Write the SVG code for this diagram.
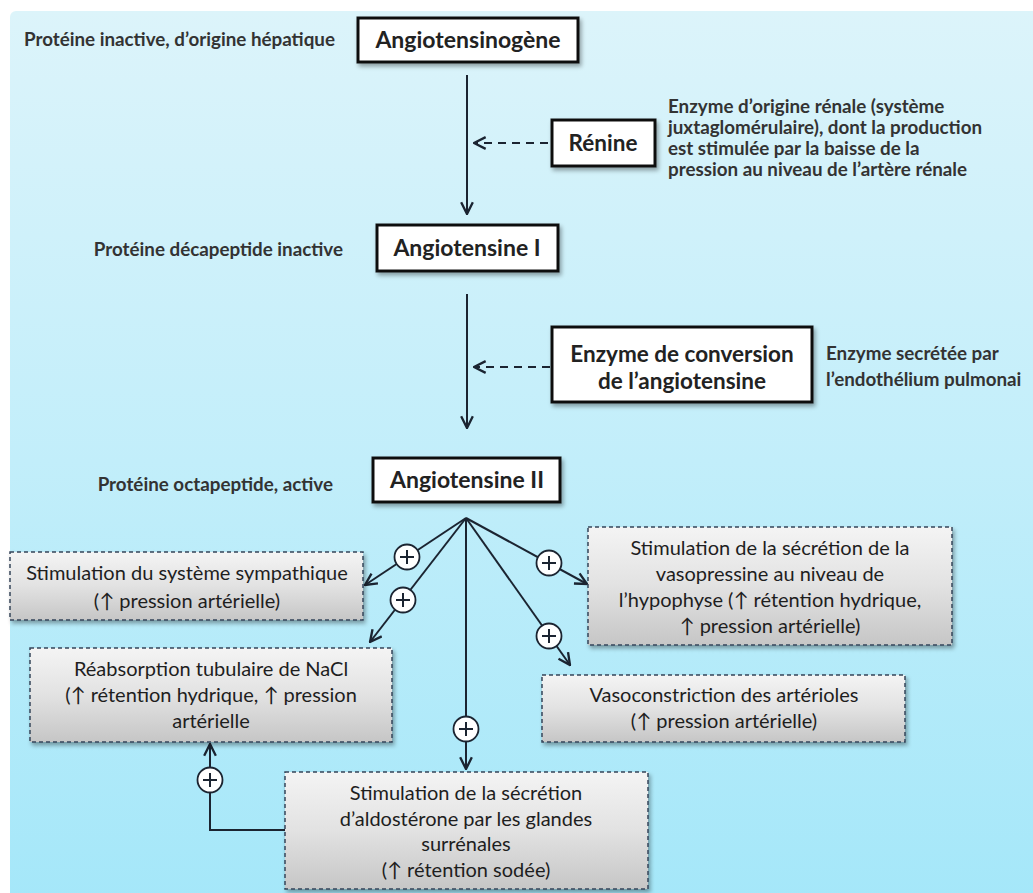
<svg xmlns="http://www.w3.org/2000/svg" width="1033" height="893" viewBox="0 0 1033 893">
<defs>
<linearGradient id="bgG" x1="0" y1="0" x2="0" y2="1">
<stop offset="0" stop-color="#dcf4fa"/>
<stop offset="0.5" stop-color="#c2eefa"/>
<stop offset="1" stop-color="#a4e7f9"/>
</linearGradient>
<linearGradient id="grayG" x1="0" y1="0" x2="0" y2="1">
<stop offset="0" stop-color="#f4f4f4"/>
<stop offset="0.5" stop-color="#e2e2e2"/>
<stop offset="1" stop-color="#c6c6c6"/>
</linearGradient>
<filter id="sh" x="-10%" y="-20%" width="125%" height="150%">
<feDropShadow dx="2" dy="3" stdDeviation="2" flood-color="#000" flood-opacity="0.35"/>
</filter>
<marker id="ah" viewBox="0 0 12 12" refX="11" refY="6" markerWidth="14" markerHeight="14" markerUnits="userSpaceOnUse" orient="auto">
<path d="M1,1 L11,6 L1,11" fill="none" stroke="#1b2431" stroke-width="2"/>
</marker>
<style>
.wbox{fill:#fff;stroke:#111;stroke-width:3;filter:url(#sh)}
.gbox{fill:url(#grayG);stroke:#34465a;stroke-width:1.5;stroke-dasharray:4 3;filter:url(#sh)}
.tb{font-family:Lato,"Open Sans","DejaVu Sans",sans-serif;font-weight:700;fill:#222}
.tl{font-family:Lato,"Open Sans","DejaVu Sans",sans-serif;font-weight:700;fill:#333;font-size:18.8px}
.tg{font-family:Lato,"Open Sans","DejaVu Sans",sans-serif;font-weight:400;fill:#1e1e1e;font-size:20px;text-anchor:middle}
.c{text-anchor:middle}
.ln{fill:none;stroke:#1b2431;stroke-width:2}
.dash{fill:none;stroke:#1b2431;stroke-width:2;stroke-dasharray:8 6}
.pc{fill:#fff;stroke:#1b2431;stroke-width:1.8}
.ps{stroke:#1b2431;stroke-width:2}
</style>
</defs>
<rect x="0" y="0" width="1033" height="893" fill="#fff"/>
<rect x="10" y="11" width="1040" height="900" rx="6" fill="url(#bgG)"/>

<g id="connectors">
<line class="ln" x1="467" y1="75" x2="467" y2="214" marker-end="url(#ah)"/>
<line class="dash" x1="548" y1="143" x2="474" y2="143" marker-end="url(#ah)"/>
<line class="ln" x1="467" y1="294" x2="467" y2="428" marker-end="url(#ah)"/>
<line class="dash" x1="550" y1="367" x2="474" y2="367" marker-end="url(#ah)"/>
<line class="ln" x1="466" y1="518" x2="365" y2="585" marker-end="url(#ah)"/>
<line class="ln" x1="466" y1="518" x2="370" y2="642" marker-end="url(#ah)"/>
<line class="ln" x1="466" y1="518" x2="466" y2="769" marker-end="url(#ah)"/>
<line class="ln" x1="466" y1="518" x2="587" y2="584" marker-end="url(#ah)"/>
<line class="ln" x1="466" y1="518" x2="570" y2="665" marker-end="url(#ah)"/>
<polyline class="ln" points="285,830 210,830 210,744" marker-end="url(#ah)"/>
<g id="plus1"><circle class="pc" cx="407" cy="557" r="12.5"/><line class="ps" x1="400" y1="557" x2="414" y2="557"/><line class="ps" x1="407" y1="550" x2="407" y2="564"/></g>
<g id="plus2"><circle class="pc" cx="403" cy="600" r="12.5"/><line class="ps" x1="396" y1="600" x2="410" y2="600"/><line class="ps" x1="403" y1="593" x2="403" y2="607"/></g>
<g id="plus3"><circle class="pc" cx="466" cy="729" r="12.5"/><line class="ps" x1="459" y1="729" x2="473" y2="729"/><line class="ps" x1="466" y1="722" x2="466" y2="736"/></g>
<g id="plus4"><circle class="pc" cx="549" cy="563" r="12.5"/><line class="ps" x1="542" y1="563" x2="556" y2="563"/><line class="ps" x1="549" y1="556" x2="549" y2="570"/></g>
<g id="plus5"><circle class="pc" cx="549" cy="636" r="12.5"/><line class="ps" x1="542" y1="636" x2="556" y2="636"/><line class="ps" x1="549" y1="629" x2="549" y2="643"/></g>
<g id="plus6"><circle class="pc" cx="210" cy="780" r="12.5"/><line class="ps" x1="203" y1="780" x2="217" y2="780"/><line class="ps" x1="210" y1="773" x2="210" y2="787"/></g>
</g>

<g id="label-angiotensinogene"><text class="tl" x="335" y="46" text-anchor="end">Protéine inactive, d’origine hépatique</text></g>
<g id="node-angiotensinogene">
<rect class="wbox" x="358" y="18" width="220" height="44"/>
<text class="tb c" x="468" y="48" font-size="23">Angiotensinogène</text>
</g>

<g id="node-renine">
<rect class="wbox" x="552" y="120" width="103" height="46"/>
<text class="tb c" x="603" y="151" font-size="22.5">Rénine</text>
</g>
<g id="label-renine">
<text class="tl" x="668" y="113">Enzyme d’origine rénale (système</text>
<text class="tl" x="668" y="134">juxtaglomérulaire), dont la production</text>
<text class="tl" x="668" y="155">est stimulée par la baisse de la</text>
<text class="tl" x="668" y="176">pression au niveau de l’artère rénale</text>
</g>

<g id="label-angiotensine1"><text class="tl" x="343" y="256" text-anchor="end">Protéine décapeptide inactive</text></g>
<g id="node-angiotensine1">
<rect class="wbox" x="377" y="225" width="181" height="46"/>
<text class="tb c" x="467" y="256" font-size="23">Angiotensine I</text>
</g>

<g id="node-eca">
<rect class="wbox" x="552" y="327" width="260" height="75"/>
<text class="tb c" x="682" y="362" font-size="22.5">Enzyme de conversion</text>
<text class="tb c" x="682" y="389" font-size="22.5">de l’angiotensine</text>
</g>
<g id="label-eca">
<text class="tl" x="826" y="360">Enzyme secrétée par</text>
<text class="tl" x="826" y="386">l’endothélium pulmonai</text>
</g>

<g id="label-angiotensine2"><text class="tl" x="333" y="491" text-anchor="end">Protéine octapeptide, active</text></g>
<g id="node-angiotensine2">
<rect class="wbox" x="373" y="458" width="187" height="44"/>
<text class="tb c" x="467" y="488" font-size="23">Angiotensine II</text>
</g>

<g id="node-sympathique">
<rect class="gbox" x="10" y="552" width="353" height="68"/>
<text class="tg" x="187" y="580">Stimulation du système sympathique</text>
<text class="tg" x="187" y="608">(↑ pression artérielle)</text>
</g>

<g id="node-vasopressine">
<rect class="gbox" x="588" y="527" width="364" height="118"/>
<text class="tg" x="770" y="555">Stimulation de la sécrétion de la</text>
<text class="tg" x="770" y="581">vasopressine au niveau de</text>
<text class="tg" x="770" y="607">l’hypophyse (↑ rétention hydrique,</text>
<text class="tg" x="770" y="633">↑ pression artérielle)</text>
</g>

<g id="node-reabsorption">
<rect class="gbox" x="30" y="648" width="362" height="94"/>
<text class="tg" x="211" y="676">Réabsorption tubulaire de NaCl</text>
<text class="tg" x="211" y="702">(↑ rétention hydrique, ↑ pression</text>
<text class="tg" x="211" y="728">artérielle</text>
</g>

<g id="node-vasoconstriction">
<rect class="gbox" x="542" y="675" width="363" height="67"/>
<text class="tg" x="724" y="702">Vasoconstriction des artérioles</text>
<text class="tg" x="724" y="728">(↑ pression artérielle)</text>
</g>

<g id="node-aldosterone">
<rect class="gbox" x="285" y="772" width="363" height="117"/>
<text class="tg" x="466" y="800">Stimulation de la sécrétion</text>
<text class="tg" x="466" y="826">d’aldostérone par les glandes</text>
<text class="tg" x="466" y="851">surrénales</text>
<text class="tg" x="466" y="877">(↑ rétention sodée)</text>
</g>
</svg>
